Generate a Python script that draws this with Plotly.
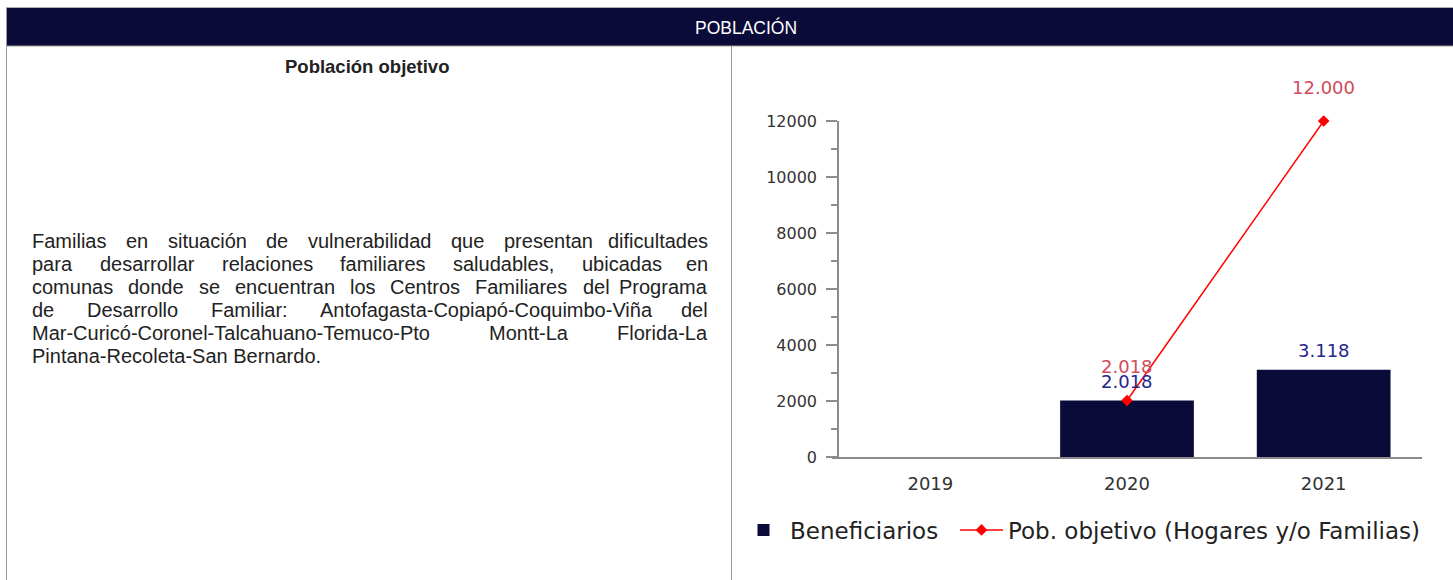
import plotly.graph_objects as go

# ---------------- data ----------------
years = ["2019", "2020", "2021"]
beneficiarios = [None, 2018, 3118]
pob_objetivo = [None, 2018, 12000]
y_ticks = [0, 2000, 4000, 6000, 8000, 10000, 12000]
y_minor = [1000, 3000, 5000, 7000, 9000, 11000]

header_title = "POBLACIÓN"
panel_title = "Población objetivo"
body_lines = [
    "Familias en situación de vulnerabilidad que presentan dificultades",
    "para desarrollar relaciones familiares saludables, ubicadas en",
    "comunas donde se encuentran los Centros Familiares del Programa",
    "de Desarrollo Familiar: Antofagasta-Copiapó-Coquimbo-Viña del",
    "Mar-Curicó-Coronel-Talcahuano-Temuco-Pto Montt-La Florida-La",
    "Pintana-Recoleta-San Bernardo.",
]

# ---------------- style ----------------
W, H = 1453, 580
NAVY = "#0b0b3a"
RED = "#ff0000"
RED_LBL = "#d24b5a"
BLUE_LBL = "#25258f"
GRAY = "#8c8c8c"
SANS = "Liberation Sans, Arial, sans-serif"
DEJAVU = "DejaVu Sans, sans-serif"
BODY_SIZE = 20


def px(x):
    return x / W


def py(y):
    return 1 - y / H


# Arial / Liberation Sans advance widths (1/1000 em)
AW = {
    " ": 278, "a": 556, "b": 556, "c": 500, "d": 556, "e": 556, "f": 278, "g": 556,
    "h": 556, "i": 222, "j": 222, "k": 500, "l": 222, "m": 833, "n": 556, "o": 556,
    "p": 556, "q": 556, "r": 333, "s": 500, "t": 278, "u": 556, "v": 500, "w": 722,
    "x": 500, "y": 500, "z": 500, "A": 667, "B": 667, "C": 722, "D": 722, "E": 667,
    "F": 611, "G": 778, "H": 722, "I": 278, "J": 500, "K": 667, "L": 556, "M": 833,
    "N": 722, "O": 778, "P": 667, "Q": 778, "R": 722, "S": 667, "T": 611, "U": 722,
    "V": 667, "W": 944, "X": 667, "Y": 667, "Z": 611, "-": 333, ":": 278, ".": 278,
    ",": 278, "ó": 556, "á": 556, "ñ": 556, "é": 556, "í": 222, "ú": 556,
}


def text_w(s, size):
    return sum(AW.get(ch, 556) for ch in s) * size / 1000.0


fig = go.Figure()

fig.add_trace(go.Bar(
    x=years, y=beneficiarios, name="Beneficiarios",
    marker=dict(color=NAVY, line=dict(width=0)),
    legend="legend",
))
fig.add_trace(go.Scatter(
    x=years, y=pob_objetivo, name="Pob. objetivo (Hogares y/o Familias)",
    mode="lines+markers", cliponaxis=False,
    line=dict(color=RED, width=1.5),
    marker=dict(symbol="diamond", size=9, color=RED),
    legend="legend2",
))

annotations = []


def fmt(v):
    return f"{v:,}".replace(",", ".")


# category axes: annotation x is the category index
for i, v in enumerate(pob_objetivo):
    if v is not None:
        annotations.append(dict(
            x=i, y=v, xref="x", yref="y", text=fmt(v), showarrow=False,
            yanchor="middle", yshift=34, font=dict(family=DEJAVU, size=18, color=RED_LBL),
        ))
for i, v in enumerate(beneficiarios):
    if v is not None:
        annotations.append(dict(
            x=i, y=v, xref="x", yref="y", text=fmt(v), showarrow=False,
            yanchor="middle", yshift=19, font=dict(family=DEJAVU, size=18, color=BLUE_LBL),
        ))

# header + panel titles
annotations.append(dict(
    x=px(746), y=py(27), xref="paper", yref="paper", text=header_title, showarrow=False,
    xanchor="center", yanchor="middle", font=dict(family=SANS, size=17.5, color="white"),
))
annotations.append(dict(
    x=px(367), y=py(66), xref="paper", yref="paper", text="<b>" + panel_title + "</b>",
    showarrow=False, xanchor="center", yanchor="middle",
    font=dict(family=SANS, size=18.5, color="#222222"),
))

# justified body text
LEFT, RIGHT = 30, 710
Y0, STEP = 241, 23
for i, line in enumerate(body_lines):
    yy = Y0 + i * STEP
    words = line.split(" ")
    last = i == len(body_lines) - 1
    if last or len(words) == 1:
        annotations.append(dict(
            x=px(LEFT), y=py(yy), xref="paper", yref="paper", text=line, showarrow=False,
            xanchor="left", yanchor="middle", font=dict(family=SANS, size=BODY_SIZE, color="#222222"),
        ))
        continue
    widths = [text_w(w, BODY_SIZE) for w in words]
    gap = (RIGHT - LEFT - sum(widths)) / (len(words) - 1)
    x = LEFT
    for j, (w, ww) in enumerate(zip(words, widths)):
        if j == len(words) - 1:
            annotations.append(dict(
                x=px(RIGHT), y=py(yy), xref="paper", yref="paper", text=w, showarrow=False,
                xanchor="right", yanchor="middle",
                font=dict(family=SANS, size=BODY_SIZE, color="#222222"),
            ))
        else:
            annotations.append(dict(
                x=px(x), y=py(yy), xref="paper", yref="paper", text=w, showarrow=False,
                xanchor="left", yanchor="middle",
                font=dict(family=SANS, size=BODY_SIZE, color="#222222"),
            ))
        x += ww + gap

shapes = [
    dict(type="rect", xref="paper", yref="paper", x0=px(6), x1=1, y0=py(46), y1=py(8),
         fillcolor=NAVY, line=dict(width=0), layer="below"),
    dict(type="line", xref="paper", yref="paper", x0=px(6), x1=1, y0=py(7.5), y1=py(7.5),
         line=dict(color="#b0b0b0", width=1)),
    dict(type="line", xref="paper", yref="paper", x0=px(6), x1=1, y0=py(46), y1=py(46),
         line=dict(color="#9a9a9a", width=1)),
    dict(type="line", xref="paper", yref="paper", x0=px(6.5), x1=px(6.5), y0=py(7.5), y1=0,
         line=dict(color="#9a9a9a", width=1)),
    dict(type="line", xref="paper", yref="paper", x0=px(731.5), x1=px(731.5), y0=py(46), y1=0,
         line=dict(color="#9a9a9a", width=1)),
]

legend_common = dict(
    orientation="h", xanchor="left", yanchor="middle", y=py(530),
    font=dict(family=DEJAVU, size=23, color="#222222"),
    bgcolor="rgba(0,0,0,0)", itemwidth=43,
)

fig.update_layout(
    width=W, height=H, autosize=False,
    margin=dict(l=0, r=0, t=0, b=0, autoexpand=False),
    paper_bgcolor="white", plot_bgcolor="white",
    bargap=0.32,
    showlegend=True,
    legend=dict(legend_common, x=px(737)),
    legend2=dict(legend_common, x=px(955)),
    xaxis=dict(
        domain=[px(832), px(1422)], type="category", anchor="y",
        showline=True, linecolor=GRAY, linewidth=1.5, ticks="", showgrid=False, zeroline=False,
        tickfont=dict(family=DEJAVU, size=18, color="#333333"), ticklabelstandoff=10,
    ),
    yaxis=dict(
        domain=[py(457), py(121)], range=[0, 12000], anchor="free", position=px(838),
        showline=True, linecolor=GRAY, linewidth=1.5, showgrid=False, zeroline=False,
        tickmode="array", tickvals=y_ticks, ticktext=[str(v) for v in y_ticks],
        ticks="outside", ticklen=11, tickcolor=GRAY,
        tickwidth=1.5, tickfont=dict(family=DEJAVU, size=16, color="#333333"),
        ticklabelstandoff=6,
        minor=dict(tickvals=y_minor, ticks="outside", ticklen=6, tickcolor=GRAY, tickwidth=1.5),
    ),
    annotations=annotations,
    shapes=shapes,
)

post = (
    "var de=document.documentElement;de.style.margin='0';de.style.padding='0';"
    "de.style.overflow='hidden';de.style.height='580px';"
    "document.body.style.margin='0';document.body.style.padding='0';"
    "document.body.style.overflow='hidden';document.body.style.height='580px';"
    "var gd=document.getElementById('{plot_id}');"
    "gd.style.position='absolute';gd.style.top='0px';gd.style.left='0px';"
)
fig.write_html("out.html", post_script=post, config={"displayModeBar": False})
